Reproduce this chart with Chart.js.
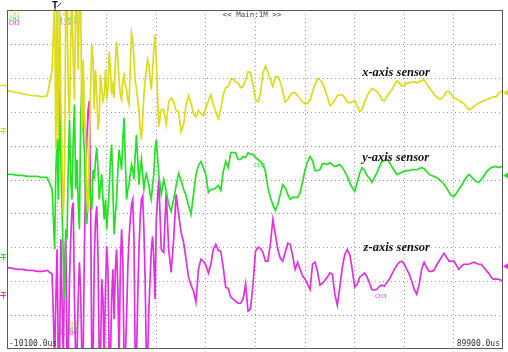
<!DOCTYPE html>
<html><head><meta charset="utf-8">
<script src="https://cdn.jsdelivr.net/npm/chart.js@4.4.1/dist/chart.umd.min.js"></script>
<style>html,body{margin:0;padding:0;background:#fff}canvas{display:block}</style>
</head><body>
<canvas id="scope" width="508" height="352"></canvas>
<script>
// Sample times (ms after trigger); denser sampling through the shock burst
const timeMs = [-10.1,-9,-8,-7,-6,-5,-4,-3,-2,-1,
-0.5,-0.25,0,0.25,0.5,0.75,1,1.25,1.5,1.75,
2,2.25,2.5,2.75,3,3.25,3.5,3.75,4,4.25,
4.5,4.75,5,5.25,5.5,5.75,6,6.25,6.5,6.75,
7,7.25,7.5,7.75,8,8.25,8.5,8.75,9,9.25,
9.5,9.75,10,10.25,10.5,10.75,11,11.25,11.5,11.75,
12,12.25,12.5,12.75,13,13.25,13.5,13.75,14,14.25,
14.5,14.75,15,15.25,15.5,15.75,16,16.25,16.5,16.75,
17,17.25,17.5,17.75,18,18.25,18.5,18.75,19,19.25,
19.5,19.75,20,
20.5,21,21.5,22,22.5,23,23.5,24,
24.5,25,25.5,26,26.5,27,27.5,28,28.5,29,
29.5,30,30.5,31,31.5,32,32.5,33,33.5,34,
34.5,35,35.5,36,36.5,37,37.5,38,38.5,39,
39.5,40,40.5,41,41.5,42,42.5,43,43.5,44,
44.5,45,45.5,46,46.5,47,47.5,48,48.5,49,
49.5,50,50.5,51,51.5,52,52.5,53,53.5,54,
54.5,55,55.5,56,56.5,57,57.5,58,58.5,59,
59.5,60,60.5,61,61.5,62,62.5,63,63.5,64,
64.5,65,65.5,66,66.5,67,67.5,68,68.5,69,
69.5,70,70.5,71,71.5,72,72.5,73,73.5,74,
74.5,75,75.5,76,76.5,77,77.5,78,78.5,79,
79.5,80,80.5,81,81.5,82,82.5,83,83.5,84,
84.5,85,85.5,86,86.5,87,87.5,88,88.5,89,
89.5,89.9];

// CH1 - x-axis sensor (screen divisions)
const ch1Div = [2.62,2.59,2.56,2.53,2.50,2.47,2.47,2.44,2.47,3.24,
5.3,0.88,5.3,1.18,5.3,2.35,0.88,-1.03,0,5.3,
5.3,2.65,1.76,4.12,5.3,3.53,2.35,5.3,5.3,3.24,
5.3,5.3,1.47,3.53,2.06,1.18,-0.59,-0.97,1.18,2.65,
3.97,3.53,2.06,3.24,2.50,1.47,1.76,3.09,2.65,2.32,
2.50,3.24,2.35,2.65,3.76,3.24,2.50,2.79,2.41,3.53,
4.06,3.53,2.94,2.50,2.35,2.94,3.09,2.79,2.65,2.35,
2.21,3.24,4.32,4.12,3.53,2.94,2.65,2.35,2.06,1.47,
1.18,1.76,2.50,2.94,3.24,3.53,3.38,2.94,2.65,3.24,
3.82,4.26,3.53,
1.56,2.06,2.06,1.62,2.29,2.41,2.29,2.03,
2.00,1.41,1.62,2.21,2.47,2.26,1.94,1.85,2.03,1.94,
1.88,2.12,2.32,2.50,2.21,2.00,1.79,2.06,2.50,2.71,
2.74,2.94,2.97,2.88,2.85,2.71,2.74,2.94,3.18,3.15,
2.79,2.35,2.29,2.53,3.15,3.35,3.18,2.94,2.74,3.03,
3.03,2.88,2.59,2.29,2.35,2.50,2.56,2.56,2.47,2.38,
2.29,2.24,2.24,2.35,2.59,2.79,2.97,2.94,2.85,2.65,
2.44,2.18,2.24,2.35,2.47,2.50,2.50,2.41,2.29,2.26,
2.29,2.32,2.18,2.00,2.06,2.29,2.47,2.59,2.68,2.65,
2.59,2.50,2.35,2.32,2.44,2.56,2.65,2.79,2.91,2.85,
2.76,2.79,2.85,2.85,2.88,2.88,2.85,2.88,2.91,2.94,
2.82,2.71,2.62,2.50,2.44,2.38,2.38,2.47,2.59,2.59,
2.50,2.41,2.38,2.32,2.29,2.24,2.15,2.06,2.09,2.15,
2.21,2.26,2.29,2.32,2.35,2.38,2.41,2.44,2.44,2.53,
2.59,2.65];

// CH2 - y-axis sensor
const ch2Div = [0.15,0.15,0.12,0.12,0.09,0.09,0.09,0.06,0.06,-0.29,
-2.06,0.29,1.18,-0.59,2.71,0.59,-0.88,-2.35,-3.53,-1.47,
-1.76,0.29,1.76,0,-0.59,1.18,2.21,-0.29,0.59,-0.59,
-1.47,1.76,2.79,1.47,0.88,-0.59,-1.32,-0.29,0,-0.59,
-0.88,0.29,0,0.59,0.94,0.29,-0.59,-0.15,0.15,-0.59,
-1.18,-0.59,-1.47,-0.88,-0.29,0.59,1.03,-0.29,-1.62,-1.03,
-0.59,0.29,0.88,0.59,0.29,1.18,1.82,0.59,-0.59,-0.29,
-0.15,0.15,0.44,0.29,0,0.74,1.32,0.59,-0.15,0.29,
0.59,0.15,-0.29,0,0.15,0,-0.15,-0.44,-0.59,-0.15,
0.15,0.88,1.18,
0.15,-0.44,0,-0.35,-0.74,-0.94,-0.59,-0.18,
0.18,-0.03,-0.29,-0.47,-0.76,-1.03,-0.44,0.15,0.41,0.53,
0.35,0.12,-0.38,-0.29,-0.29,-0.24,-0.18,-0.32,0.24,0.53,
0.35,0.79,0.79,0.79,0.59,0.59,0.68,0.65,0.79,0.74,
0.74,0.65,0.59,0.53,0.44,0.24,-0.24,-0.53,-0.74,-0.91,
-0.74,-0.44,-0.15,-0.24,-0.44,-0.59,-0.53,-0.53,-0.53,-0.38,
-0.06,0.29,0.53,0.68,0.56,0.26,0.26,0.29,0.47,0.47,
0.44,0.50,0.44,0.38,0.41,0.44,0.35,0.24,0.09,-0.09,
-0.24,-0.35,-0.09,0.18,0.35,0.26,0.12,0.03,-0.09,0.06,
0.21,0.38,0.53,0.56,0.59,0.50,0.38,0.26,0.15,0.18,
0.21,0.24,0.26,0.26,0.29,0.29,0.29,0.32,0.35,0.32,
0.24,0.15,0.12,0.09,0.06,0,-0.06,-0.15,-0.24,-0.38,
-0.47,-0.50,-0.41,-0.29,-0.18,-0.06,0.06,0.15,0.09,0,
-0.06,-0.09,0,0.09,0.21,0.29,0.35,0.38,0.38,0.35,
0.38,0.38];

// CH3 - z-axis sensor
const ch3Div = [-2.59,-2.62,-2.65,-2.65,-2.68,-2.68,-2.71,-2.71,-2.68,-2.79,
-5.3,-3.53,-2.06,-5.3,-5.3,-1.76,-3.53,-5.3,-2.65,-1.62,
-5.3,-5.3,-2.94,-1.76,-0.88,-0.68,-3.53,-5.3,-5.3,-3.53,
-2.44,-3.24,-5.3,-5.3,-2.06,0,1.18,2.06,2.32,-0.59,
-5.3,-5.3,-2.35,-1.18,-0.79,-2.35,-5.3,-5.3,-2.94,-3.53,
-5.3,-3.24,-1.97,-2.65,-5.3,-5.3,-3.53,-2.65,-4.12,-2.65,
-2.06,-3.24,-5.3,-2.65,-1.47,-2.35,-5.3,-5.3,-4.12,-2.65,
-1.76,-1.18,-0.74,-0.59,-1.76,-5.3,-5.3,-3.53,-2.06,-1.18,
-0.59,-0.50,-1.47,-2.94,-5.3,-5.3,-3.82,-2.94,-2.06,-1.68,
-2.35,-3.53,-1.18,
0,-2.06,-2.15,-0.38,-2.06,-2.74,-1.76,-0.44,
-1.03,-1.56,-1.85,-2.35,-2.88,-3.12,-3.29,-3.62,-2.65,-2.35,
-2.41,-2.53,-2.76,-2.50,-2.06,-1.91,-2.09,-2.12,-2.59,-3.18,
-3.21,-3.47,-3.53,-3.59,-3.65,-3.65,-3.53,-3.09,-3.88,-3.82,
-3.09,-2.12,-2.00,-2.03,-2.15,-2.41,-2.41,-1.91,-1.18,-1.62,
-2.06,-2.32,-2.41,-2.15,-1.88,-1.91,-2.26,-2.65,-2.44,-2.65,
-2.85,-2.94,-3.09,-3.24,-2.50,-2.44,-2.71,-3.12,-3.06,-2.97,
-2.88,-2.76,-2.79,-3.38,-3.71,-3.18,-2.59,-2.21,-2.06,-2.21,
-2.65,-3.18,-3.09,-2.88,-2.82,-2.76,-2.88,-3.06,-3.26,-3.26,
-3.24,-3.15,-3.12,-3.15,-3.03,-2.94,-2.79,-2.65,-2.53,-2.44,
-2.41,-2.50,-2.65,-2.79,-3.00,-3.24,-3.38,-3.09,-2.65,-2.44,
-2.59,-2.71,-2.71,-2.68,-2.53,-2.41,-2.29,-2.18,-2.29,-2.41,
-2.41,-2.41,-2.53,-2.65,-2.56,-2.50,-2.50,-2.50,-2.47,-2.44,
-2.47,-2.50,-2.50,-2.59,-2.68,-2.76,-2.88,-2.94,-2.94,-2.94,
-2.97,-3.00];

// Graticule: 10 ms/div horizontally, 10 divisions vertically
const xTicksMs = [-10.1,-0.1,9.9,19.9,29.9,39.9,49.9,59.9,69.9,79.9,89.9];
const yTicksDiv = [-5,-4,-3,-2,-1,0,1,2,3,4,5];

const channelNames = ['CH1','CH2','CH3'];
const channelColors = ['#dcdc1c','#26e026','#e030e0'];
const topScaleTexts = ['1.00V','34.40V','16.60V'];
const bottomScaleTexts = ['-3.00V','-5.60V','-3.40V'];
const sensorLabels = ['x-axis sensor','y-axis sensor','z-axis sensor'];
const sensorLabelAt = [[61.5,3.06],[61.5,0.56],[61.8,-2.12]]; // [ms, div] of each label's baseline start
const timeRangeLabels = ['-10100.0us','89900.0us'];
const modeLabel = '<< Main:1M >>';
const groundMarkDiv = [1.44,-2.29,-3.41]; // left-edge level markers
const offsetMarkDiv = [2.56,0.12,-2.56]; // right-edge channel markers

const graticule = {
  id: 'graticule',
  beforeDatasetsDraw(chart) {
    const {ctx, chartArea: a, scales: {x, y}} = chart;
    ctx.save();
    ctx.strokeStyle = '#a0a0a0';
    ctx.lineWidth = 1;
    ctx.setLineDash([1, 3]);
    xTicksMs.slice(1, -1).forEach(t => {
      const px = Math.round(x.getPixelForValue(t)) + 0.5;
      ctx.beginPath(); ctx.moveTo(px, a.top); ctx.lineTo(px, a.bottom); ctx.stroke();
    });
    yTicksDiv.slice(1, -1).forEach(v => {
      const py = Math.round(y.getPixelForValue(v)) + 0.5;
      ctx.beginPath(); ctx.moveTo(a.left, py); ctx.lineTo(a.right, py); ctx.stroke();
    });
    ctx.setLineDash([]);
    // channel scale readouts sit under the traces
    ctx.font = '6px "DejaVu Sans Mono", monospace';
    ctx.textBaseline = 'alphabetic';
    const t0 = x.getPixelForValue(-0.1) - 1;
    channelNames.forEach((n, i) => {
      ctx.fillStyle = channelColors[i];
      ctx.fillText(n, a.left + 2, a.top + 6 + i * 4.6);
      ctx.fillText(topScaleTexts[i], t0, a.top + 6 + i * 4.6);
      ctx.fillText(bottomScaleTexts[i], t0, a.bottom - 23 + i * 4.6);
    });
    ctx.restore();
  },
  afterDatasetsDraw(chart) {
    const {ctx, chartArea: a, scales: {x, y}} = chart;
    ctx.save();
    // frame
    ctx.strokeStyle = '#5a5a5a';
    ctx.lineWidth = 1;
    ctx.strokeRect(a.left + 0.5, a.top + 0.5, a.right - a.left - 1, a.bottom - a.top - 1);
    // sensor captions
    ctx.fillStyle = '#111';
    ctx.font = 'italic bold 12.5px "Liberation Serif", "DejaVu Serif", serif';
    sensorLabels.forEach((s, i) => {
      ctx.fillText(s, x.getPixelForValue(sensorLabelAt[i][0]), y.getPixelForValue(sensorLabelAt[i][1]));
    });
    // small channel tags on the traces
    ctx.font = '5.5px "DejaVu Sans", sans-serif';
    ctx.fillStyle = channelColors[1];
    ctx.fillText('CH2', x.getPixelForValue(39.7), y.getPixelForValue(0.38));
    ctx.fillStyle = channelColors[2];
    ctx.fillText('CH3', x.getPixelForValue(64.1), y.getPixelForValue(-3.5));
    // time range and mode readouts
    ctx.font = '8px "DejaVu Sans Mono", monospace';
    ctx.fillStyle = '#333';
    ctx.textAlign = 'left';
    ctx.fillText(timeRangeLabels[0], a.left + 2, a.bottom - 3);
    ctx.textAlign = 'right';
    ctx.fillText(timeRangeLabels[1], a.right - 3, a.bottom - 3);
    ctx.textAlign = 'center';
    ctx.fillStyle = '#444';
    ctx.font = '7.5px "DejaVu Sans Mono", monospace';
    ctx.fillText(modeLabel, x.getPixelForValue(39.9) - 3, a.top + 7);
    // trigger position marker
    const tx = x.getPixelForValue(0);
    ctx.fillStyle = '#111';
    ctx.font = 'bold 8px "DejaVu Sans", sans-serif';
    ctx.fillText('T', tx - 2, 8);
    ctx.strokeStyle = '#333';
    ctx.beginPath(); ctx.moveTo(tx - 2, 8); ctx.lineTo(tx - 2, 11); ctx.moveTo(tx, 7); ctx.lineTo(tx + 4, 3); ctx.stroke();
    // left edge level markers
    ctx.lineWidth = 1;
    groundMarkDiv.forEach((v, i) => {
      const py = Math.round(y.getPixelForValue(v)) + 0.5;
      ctx.strokeStyle = channelColors[i];
      ctx.beginPath();
      ctx.moveTo(0, py); ctx.lineTo(6, py);
      ctx.moveTo(3.5, py - 3); ctx.lineTo(3.5, py + 3);
      ctx.moveTo(1, py - 3); ctx.lineTo(6, py - 3);
      ctx.stroke();
    });
    ctx.strokeStyle = channelColors[0];
    const p1 = Math.round(y.getPixelForValue(2.79)) + 0.5;
    ctx.beginPath(); ctx.moveTo(0, p1); ctx.lineTo(6, p1); ctx.moveTo(4, p1 - 2); ctx.lineTo(6, p1); ctx.lineTo(4, p1 + 2); ctx.stroke();
    // right edge channel markers
    offsetMarkDiv.forEach((v, i) => {
      const py = y.getPixelForValue(v);
      ctx.fillStyle = channelColors[i];
      ctx.beginPath(); ctx.moveTo(a.right, py); ctx.lineTo(a.right + 5, py - 3); ctx.lineTo(a.right + 5, py + 3); ctx.closePath(); ctx.fill();
    });
    ctx.restore();
  }
};

const toPoints = vals => vals.map((v, i) => ({x: timeMs[i], y: v}));

new Chart(document.getElementById('scope'), {
  type: 'line',
  data: {
    datasets: [
      {label: channelNames[0], data: toPoints(ch1Div), borderColor: channelColors[0]},
      {label: channelNames[1], data: toPoints(ch2Div), borderColor: channelColors[1]},
      {label: channelNames[2], data: toPoints(ch3Div), borderColor: channelColors[2]}
    ]
  },
  options: {
    responsive: false,
    animation: false,
    events: [],
    layout: {padding: {left: 7, right: 5, top: 10, bottom: 3}},
    elements: {point: {radius: 0}, line: {tension: 0, borderWidth: 1.7, fill: false}},
    scales: {
      x: {type: 'linear', min: xTicksMs[0], max: xTicksMs[xTicksMs.length - 1], display: false},
      y: {type: 'linear', min: yTicksDiv[0], max: yTicksDiv[yTicksDiv.length - 1], display: false}
    },
    plugins: {legend: {display: false}, tooltip: {enabled: false}}
  },
  plugins: [graticule]
});
</script>
</body></html>
